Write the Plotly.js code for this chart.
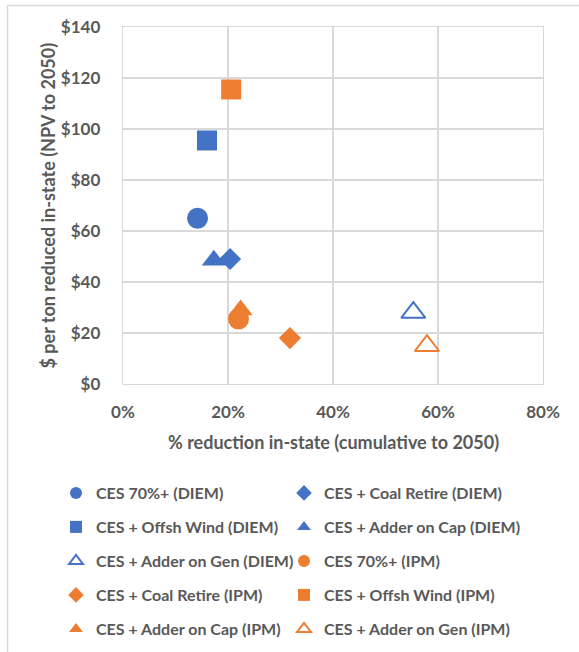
<!DOCTYPE html>
<html>
<head>
<meta charset="utf-8">
<script src="https://cdn.plot.ly/plotly-3.0.1.min.js"></script>
<style>
  html, body { margin: 0; padding: 0; background: #ffffff; overflow: hidden; }
  #chart { width: 579px; height: 652px; overflow: hidden; }
</style>
</head>
<body>
<div id="chart"></div>
<script>
// ---- data ----
const seriesNames = [
  "CES 70%+ (DIEM)", "CES + Coal Retire (DIEM)", "CES + Offsh Wind (DIEM)",
  "CES + Adder on Cap (DIEM)", "CES + Adder on Gen (DIEM)",
  "CES 70%+ (IPM)", "CES + Coal Retire (IPM)", "CES + Offsh Wind (IPM)",
  "CES + Adder on Cap (IPM)", "CES + Adder on Gen (IPM)"
];
// % reduction in-state (cumulative to 2050), as fractions
const reductionPct = [0.142, 0.204, 0.160, 0.173, 0.553, 0.220, 0.318, 0.206, 0.224, 0.579];
// $ per ton reduced in-state (NPV to 2050)
const costPerTon = [65, 49, 95.5, 48.5, 28, 25.5, 18, 115.5, 29, 15];
const xTickVals = [0, 0.2, 0.4, 0.6, 0.8];
const xTickText = ["0%", "20%", "40%", "60%", "80%"];
const yTickVals = [0, 20, 40, 60, 80, 100, 120, 140];
const yTickText = ["$0", "$20", "$40", "$60", "$80", "$100", "$120", "$140"];
const xTitle = "% reduction in-state (cumulative to 2050)";
const yTitle = "$ per ton reduced in-state (NPV to 2050)";

// ---- styles ----
const BLUE = "#4472C4", ORANGE = "#ED7D31", TXT = "#595959", GRID = "#d9d9d9";
const symbols = ["circle", "diamond", "square", "triangle-up", "triangle-up-open",
                 "circle", "diamond", "square", "triangle-up", "triangle-up-open"];
const sizes = {"circle": 21, "diamond": 17, "square": 20, "triangle-up": 21, "triangle-up-open": 21};
const colors = [BLUE, BLUE, BLUE, BLUE, BLUE, ORANGE, ORANGE, ORANGE, ORANGE, ORANGE];
const FONT = "Lato, 'Open Sans', sans-serif";

const traces = seriesNames.map((name, i) => {
  const open = symbols[i].endsWith("-open");
  return {
    type: "scatter",
    mode: "markers",
    name: name,
    x: [reductionPct[i]],
    y: [costPerTon[i]],
    legend: (i % 2 === 0) ? "legend" : "legend2",
    legendgroup: "g" + i,
    marker: {
      symbol: symbols[i],
      size: sizes[symbols[i]],
      color: colors[i],
      line: open ? {color: colors[i], width: 2} : {width: 0}
    },
    hoverinfo: "x+y+name"
  };
});

const W = 579, H = 652;
const plotL = 123, plotR = 543, plotT = 27, plotB = 384;
const pw = plotR - plotL, ph = plotB - plotT;
const px2x = p => (p - plotL) / pw;
const px2y = p => (plotB - p) / ph;

const legendBase = {
  xref: "container", yref: "container",
  xanchor: "left", yanchor: "top",
  orientation: "v",
  traceorder: "grouped",
  tracegroupgap: 10.2,
  itemsizing: "constant",
  bgcolor: "rgba(0,0,0,0)",
  borderwidth: 0,
  font: {family: FONT, size: 16, color: TXT, weight: "bold"}
};

const layout = {
  width: W, height: H,
  margin: {l: plotL, r: W - plotR, t: plotT, b: H - plotB, pad: 0, autoexpand: false},
  paper_bgcolor: "#ffffff",
  plot_bgcolor: "#ffffff",
  showlegend: true,
  xaxis: {
    range: [0, 0.8],
    tickvals: xTickVals,
    ticktext: xTickText,
    showgrid: true, gridcolor: GRID, gridwidth: 1.3,
    zeroline: false,
    showline: true, mirror: true, linecolor: GRID, linewidth: 1.3,
    ticks: "",
    ticklabelstandoff: 12,
    automargin: false,
    tickfont: {family: FONT, size: 17, color: TXT, weight: "bold"}
  },
  yaxis: {
    range: [0, 140],
    tickvals: yTickVals,
    ticktext: yTickText,
    showgrid: true, gridcolor: GRID, gridwidth: 1.3,
    zeroline: false,
    showline: true, mirror: true, linecolor: GRID, linewidth: 1.3,
    ticks: "",
    ticklabelstandoff: 18,
    automargin: false,
    tickfont: {family: FONT, size: 17, color: TXT, weight: "bold"}
  },
  annotations: [{
    text: yTitle,
    xref: "paper", yref: "paper",
    x: px2x(47), y: 0.5,
    xanchor: "center", yanchor: "middle",
    textangle: -90,
    showarrow: false,
    font: {family: FONT, size: 18, color: TXT, weight: "bold"}
  }, {
    text: xTitle,
    xref: "paper", yref: "paper",
    x: px2x(333), y: px2y(441.5),
    xanchor: "center", yanchor: "middle",
    showarrow: false,
    font: {family: FONT, size: 18, color: TXT, weight: "bold"}
  }],
  legend: Object.assign({}, legendBase, {x: 56 / W, y: 1 - 476 / H}),
  legend2: Object.assign({}, legendBase, {x: 284 / W, y: 1 - 476 / H}),
  shapes: [
    {type: "line", layer: "below", xref: "paper", yref: "paper",
     x0: px2x(7.5), x1: px2x(W), y0: px2y(5.5), y1: px2y(5.5),
     line: {color: GRID, width: 1.5}},
    {type: "line", layer: "below", xref: "paper", yref: "paper",
     x0: px2x(7.5), x1: px2x(7.5), y0: px2y(5.5), y1: px2y(H),
     line: {color: GRID, width: 1.5}}
  ]
};

Plotly.newPlot("chart", traces, layout, {displayModeBar: false, staticPlot: true});
</script>
</body>
</html>
